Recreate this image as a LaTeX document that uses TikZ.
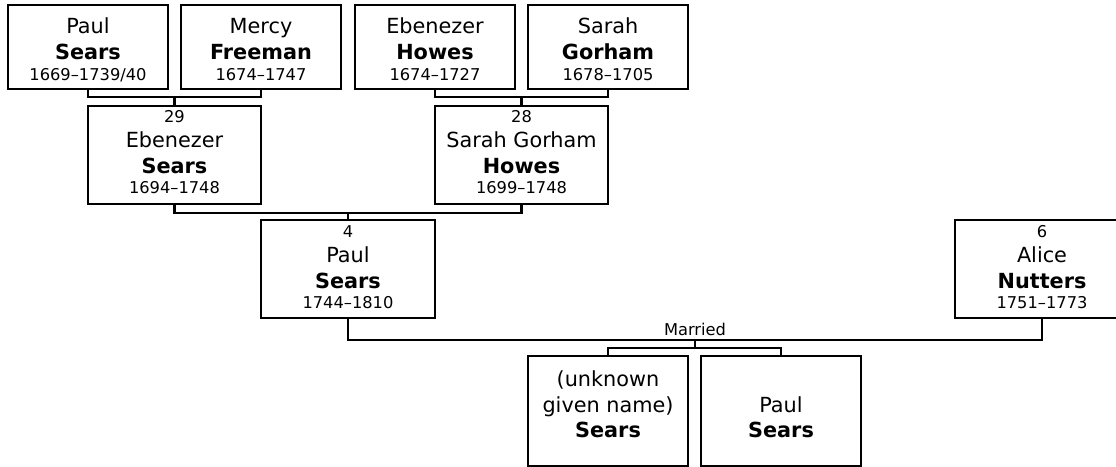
\documentclass[tikz,border=0pt]{standalone}
\usepackage{fontspec}
\setmainfont{DejaVu Sans}
\begin{document}
\begin{tikzpicture}[x=0.75pt,y=-0.75pt,
  pbox/.style={draw, line width=1.6pt, rectangle, inner sep=0pt, outer sep=0pt},
  rowone/.style={pbox, minimum width=120pt, minimum height=63pt},
  rowtwo/.style={pbox, minimum width=129.75pt, minimum height=73.5pt},
  rowthree/.style={pbox, minimum width=130.5pt, minimum height=73.5pt},
  kidbox/.style={pbox, minimum width=120pt, minimum height=82.5pt},
  link/.style={line width=1.6pt},
  given/.style={anchor=base, inner sep=0pt, font=\fontsize{15.6}{18}\selectfont},
  surname/.style={anchor=base, inner sep=0pt, font=\fontsize{15.6}{18}\selectfont\bfseries},
  small/.style={anchor=base, inner sep=0pt, font=\fontsize{12.2}{14}\selectfont}]
\useasboundingbox (0,0) rectangle (1116,467);
\clip (0,0) rectangle (1116,467);

% boxes
\node[rowone] (ps1) at (88,47) {};
\node[rowone] (mf) at (261,47) {};
\node[rowone] (eh) at (435,47) {};
\node[rowone] (sg) at (608,47) {};
\node[rowtwo] (es) at (174.5,155) {};
\node[rowtwo] (sgh) at (521.5,155) {};
\node[rowthree] (ps) at (348,269) {};
\node[rowthree] (an) at (1042,269) {};
\node[kidbox] (k1) at (608,411) {};
\node[kidbox] (k2) at (781,411) {};

% row one texts
\node[given] (ps1a) at (88,34) {Paul};
\node[surname] (ps1b) at (88,59.5) {Sears};
\node[small] (ps1c) at (88,80) {1669\textendash1739/40};
\node[given] (mfa) at (261,34) {Mercy};
\node[surname] (mfb) at (261,59.5) {Freeman};
\node[small] (mfc) at (261,80) {1674\textendash1747};
\node[given] (eha) at (435,34) {Ebenezer};
\node[surname] (ehb) at (435,59.5) {Howes};
\node[small] (ehc) at (435,80) {1674\textendash1727};
\node[given] (sga) at (608,34) {Sarah};
\node[surname] (sgb) at (608,59.5) {Gorham};
\node[small] (sgc) at (608,80) {1678\textendash1705};

% row two texts
\node[small] (es0) at (174.5,122.5) {29};
\node[given] (esa) at (174.5,147) {Ebenezer};
\node[surname] (esb) at (174.5,173) {Sears};
\node[small] (esc) at (174.5,193) {1694\textendash1748};
\node[small] (sgh0) at (521.5,122.5) {28};
\node[given] (sgha) at (521.5,147) {Sarah Gorham};
\node[surname] (sghb) at (521.5,173) {Howes};
\node[small] (sghc) at (521.5,193) {1699\textendash1748};

% row three texts
\node[small] (ps0) at (348,237) {4};
\node[given] (psa) at (348,262) {Paul};
\node[surname] (psb) at (348,288) {Sears};
\node[small] (psc) at (348,308) {1744\textendash1810};
\node[small] (an0) at (1042,237) {6};
\node[given] (ana) at (1042,262) {Alice};
\node[surname] (anb) at (1042,288) {Nutters};
\node[small] (anc) at (1042,308) {1751\textendash1773};

% children texts
\node[given] (k1a) at (608,386) {(unknown};
\node[given] (k1b) at (608,412) {given name)};
\node[surname] (k1c) at (608,437) {Sears};
\node[given] (k2a) at (781,412) {Paul};
\node[surname] (k2b) at (781,437) {Sears};

% connectors
\coordinate (j1) at (174.5,97);
\coordinate (j2) at (521.5,97);
\coordinate (j3) at (348,213);
\coordinate (j4) at (695,340);
\coordinate (j5) at (695,348);
\draw[link] (ps1.south) |- (j1) -| (mf.south);
\draw[link] (j1) -- (es.north);
\draw[link] (eh.south) |- (j2) -| (sg.south);
\draw[link] (j2) -- (sgh.north);
\draw[link] (es.south) |- (j3) -| (sgh.south);
\draw[link] (j3) -- (ps.north);
\draw[link] (ps.south) |- (j4) -| (an.south);
\node[small] (married) at (695,335.5) {Married};
\draw[link] (j4) -- (j5);
\draw[link] (k1.north) |- (j5) -| (k2.north);
\end{tikzpicture}
\end{document}
